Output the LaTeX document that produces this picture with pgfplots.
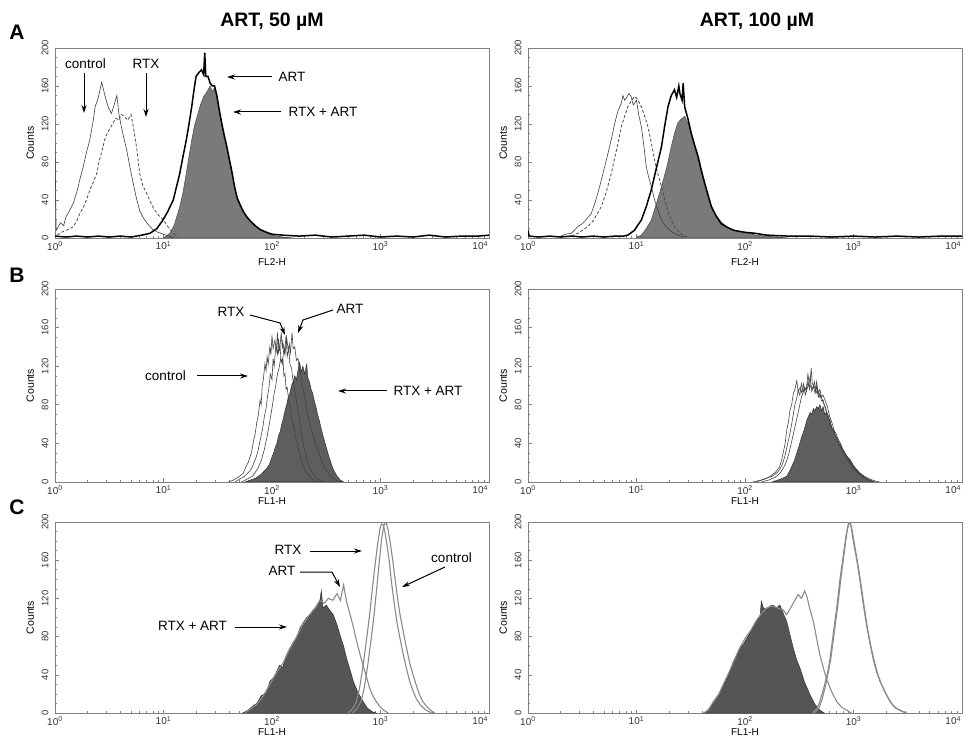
\documentclass[border=0pt]{standalone}
\usepackage{pgfplots}
\pgfplotsset{compat=1.18}
\usepackage{fontspec}
\setmainfont{Liberation Sans}
\usetikzlibrary{arrows.meta}

\definecolor{fillA}{HTML}{7A7A7A}
\definecolor{fillB}{HTML}{5E5E5E}
\definecolor{fillC}{HTML}{555555}
\definecolor{lineB}{HTML}{444444}
\definecolor{lineC}{HTML}{8A8A8A}
\definecolor{frame}{HTML}{808080}

\pgfplotsset{
  facs/.style={
    scale only axis, width=434pt, height=190pt,
    anchor=south west,
    xmin=0, xmax=4, ymin=0, ymax=200,
    no markers,
    axis line style={frame, line width=0.9pt},
    tick style={frame, line width=0.6pt},
    major tick length=3.5pt, minor tick length=2pt,
    tick pos=left,
    xtick={0,1,2,3,4},
    xticklabels={10\textsuperscript{0},10\textsuperscript{1},10\textsuperscript{2},10\textsuperscript{3},\makebox[0pt][r]{10\textsuperscript{4}\hspace{1pt}}},
    minor xtick={0.301,0.477,0.602,0.699,0.778,0.845,0.903,0.954,
                 1.301,1.477,1.602,1.699,1.778,1.845,1.903,1.954,
                 2.301,2.477,2.602,2.699,2.778,2.845,2.903,2.954,
                 3.301,3.477,3.602,3.699,3.778,3.845,3.903,3.954},
    ytick={0,40,80,120,160,200},
    yticklabels={0,40,80,120,160,200},
    minor ytick={10,20,30,50,60,70,90,100,110,130,140,150,170,180,190},
    yticklabel shift=3pt,
    yticklabel style={rotate=90, font=\fontsize{9.5}{10}\selectfont, text=black!80},
    xticklabel style={font=\fontsize{10}{11}\selectfont, text=black!80},
    ylabel={Counts},
    ylabel style={font=\fontsize{10.5}{11}\selectfont, yshift=1pt},
    xlabel style={font=\fontsize{10}{11}\selectfont, yshift=3pt},
  },
  ctrlA/.style={black!75, line width=0.6pt},
  rtxA/.style={black!70, line width=0.8pt, dash pattern=on 3pt off 2pt},
  artA/.style={black, line width=1.5pt},
  filA/.style={fill=fillA, draw=black!70, line width=0.5pt},
  linB/.style={lineB, line width=0.6pt},
  filB/.style={fill=fillB, draw=black!80, line width=0.5pt},
  linC/.style={lineC, line width=1.1pt},
  filC/.style={fill=fillC, draw=black!80, line width=0.5pt},
}

\tikzset{
  lab/.style={font=\fontsize{13.5}{14}\selectfont},
  arr/.style={-{Stealth[length=8pt,width=5pt]}, line width=1pt},
}

\begin{document}
\begin{tikzpicture}[x=1pt, y=1pt]
\useasboundingbox (0,0) rectangle (966,742);

% ---------------- row A ----------------
\begin{axis}[facs, at={(55pt,504pt)}, xlabel={FL2-H}, xlabel style={yshift=-5pt}]
\addplot[filA] coordinates {
 (1.0,0) (1.06,5) (1.1,14) (1.15,33) (1.18,48) (1.21,68) (1.235,86) (1.26,103) (1.285,118)
 (1.31,128) (1.34,140) (1.37,149) (1.39,152) (1.41,156) (1.43,160) (1.45,154) (1.47,158)
 (1.49,149) (1.515,132) (1.54,117) (1.56,106) (1.58,96) (1.605,82) (1.63,68) (1.655,52)
 (1.68,40) (1.71,32) (1.74,26) (1.77,21) (1.8,17) (1.845,12) (1.89,8) (1.95,5) (2.0,3) (2.1,1) (2.2,0)} \closedcycle;
\addplot[ctrlA] coordinates {
 (0,100) (0.01,8) (0.05,16) (0.08,13) (0.1,22) (0.14,30) (0.17,37) (0.2,48) (0.23,62) (0.26,75) (0.29,90)
 (0.32,103) (0.35,122) (0.37,138) (0.40,148) (0.43,164) (0.46,150) (0.49,138) (0.52,131)
 (0.545,140) (0.57,150) (0.59,130) (0.61,118) (0.635,105) (0.66,93) (0.69,75) (0.72,58)
 (0.75,42) (0.78,29) (0.82,20) (0.86,14) (0.9,9) (0.95,6) (1.0,4) (1.05,2) (1.1,0)};
\addplot[rtxA] coordinates {
 (0.02,3) (0.06,6) (0.1,8) (0.14,10) (0.17,12) (0.2,18) (0.23,26) (0.26,32) (0.29,40) (0.32,50)
 (0.35,58) (0.385,68) (0.41,82) (0.44,95) (0.46,104) (0.48,110) (0.51,116) (0.535,121) (0.56,126)
 (0.59,124) (0.61,130) (0.64,128) (0.67,124) (0.70,130) (0.72,118) (0.74,104) (0.755,93) (0.78,68)
 (0.81,55) (0.845,47) (0.88,38) (0.91,31) (0.94,26) (0.97,22) (1.0,19) (1.04,12) (1.09,5) (1.13,1)};
\addplot[artA] coordinates {
 (0,2) (0.1,1) (0.2,2) (0.3,1) (0.4,2) (0.5,1) (0.6,2) (0.7,1) (0.8,3) (0.876,5) (0.94,10)
 (0.995,19) (1.04,28) (1.09,40) (1.12,54) (1.15,68) (1.18,86) (1.21,103) (1.235,120) (1.26,138)
 (1.28,155) (1.3,170) (1.325,174) (1.35,177) (1.37,172) (1.38,195) (1.39,170) (1.41,170)
 (1.43,163) (1.45,160) (1.47,160) (1.49,151) (1.515,134) (1.54,119) (1.56,108) (1.58,98)
 (1.605,84) (1.63,70) (1.655,54) (1.68,42) (1.71,34) (1.74,27) (1.77,22) (1.8,18) (1.845,13)
 (1.89,9) (1.95,6) (2.0,4) (2.1,3) (2.25,2) (2.4,3) (2.55,1) (2.7,2) (2.85,3) (3.0,1)
 (3.15,2) (3.3,1) (3.45,3) (3.6,1) (3.75,2) (3.9,2) (4.0,3)};
\end{axis}
\draw[arr] (84,669) -- (84,629);
\node[lab] at (85.5,678) {control};
\draw[arr] (146,669) -- (146,625);
\node[lab] at (146,678) {RTX};
\draw[arr] (272,665) -- (227,665);
\node[lab, anchor=west] at (275,665) {ART};
\draw[arr] (281,630) -- (233,630);
\node[lab, anchor=west] at (285,630) {RTX + ART};

\begin{axis}[facs, at={(528pt,504pt)}, xlabel={FL2-H}, xlabel style={yshift=-5pt}]
\addplot[filA] coordinates {
 (1.0,1) (1.045,3) (1.09,10) (1.137,19) (1.18,35) (1.23,54) (1.28,75) (1.32,96) (1.35,110)
 (1.38,121) (1.41,125) (1.444,128) (1.47,122) (1.505,110) (1.535,95) (1.567,82) (1.6,68)
 (1.628,54) (1.66,42) (1.69,33) (1.73,24) (1.78,17) (1.84,11) (1.9,8) (1.96,6) (2.03,5)
 (2.1,3) (2.2,2) (2.3,1) (2.4,0)} \closedcycle;
\addplot[ctrlA] coordinates {
 (0.3,2) (0.35,4) (0.4,5) (0.46,12) (0.5,15) (0.54,20) (0.584,26) (0.62,38) (0.66,54) (0.70,72)
 (0.737,89) (0.77,105) (0.8,121) (0.83,134) (0.86,142) (0.875,150) (0.89,145) (0.91,148)
 (0.93,152) (0.95,149) (0.97,140) (1.0,145) (1.02,130) (1.045,117) (1.07,95) (1.09,75)
 (1.11,65) (1.137,54) (1.167,40) (1.2,28) (1.23,19) (1.27,12) (1.32,7) (1.38,3) (1.44,1)};
\addplot[rtxA] coordinates {
 (0.4,2) (0.46,5) (0.5,8) (0.55,12) (0.6,18) (0.64,26) (0.676,33) (0.72,48) (0.768,68) (0.8,85)
 (0.83,100) (0.86,117) (0.89,128) (0.92,138) (0.95,144) (0.983,149) (1.01,146) (1.045,138)
 (1.07,130) (1.106,117) (1.14,98) (1.167,82) (1.19,70) (1.213,61) (1.24,50) (1.26,40) (1.3,25)
 (1.35,12) (1.4,5) (1.47,1)};
\addplot[artA] coordinates {
 (0,8) (0.01,2) (0.1,1) (0.2,2) (0.3,1) (0.4,2) (0.5,1) (0.6,2) (0.7,1) (0.8,2) (0.88,2)
 (0.92,3) (0.98,8) (1.045,19) (1.09,33) (1.137,51) (1.18,72) (1.23,96) (1.26,118) (1.29,138)
 (1.32,150) (1.35,156) (1.37,148) (1.39,160) (1.4,152) (1.42,145) (1.43,163) (1.444,138)
 (1.475,125) (1.505,110) (1.535,98) (1.567,86) (1.6,70) (1.628,58) (1.66,45) (1.69,33)
 (1.73,24) (1.78,15) (1.84,11) (1.9,8) (2.0,6) (2.09,5) (2.2,3) (2.4,2) (2.6,2) (2.8,1)
 (3.0,2) (3.2,1) (3.4,2) (3.6,1) (3.8,2) (4.0,2)};
\end{axis}

% ---------------- row B ----------------
\begin{axis}[facs, at={(55pt,260pt)}, height=193pt, xlabel={FL1-H}]
\addplot[filB] coordinates {
 (1.75,0) (1.8,2) (1.85,4) (1.9,8) (1.95,14) (1.975,18) (2.0,26) (2.015,30) (2.03,36) (2.045,40)
 (2.06,48) (2.075,52) (2.09,60) (2.105,66) (2.12,74) (2.135,80) (2.15,88) (2.165,92) (2.18,100)
 (2.195,104) (2.21,110) (2.225,106) (2.24,116) (2.255,124) (2.27,114) (2.285,120) (2.3,112)
 (2.32,122) (2.33,108) (2.345,104) (2.36,96) (2.375,92) (2.39,84) (2.405,78) (2.42,70)
 (2.435,64) (2.45,57) (2.465,50) (2.48,44) (2.495,38) (2.51,32) (2.525,26) (2.54,21)
 (2.555,16) (2.57,12) (2.6,6) (2.63,2) (2.66,0)} \closedcycle;
\addplot[linB] coordinates {
 (1.6,0) (1.643,2) (1.69,5) (1.735,9) (1.76,16) (1.78,20) (1.8,27) (1.81,30) (1.83,43) (1.845,50)
 (1.86,62) (1.875,70) (1.89,85) (1.9,80) (1.91,100) (1.92,106) (1.935,123) (1.945,115) (1.955,130)
 (1.965,122) (1.98,140) (1.99,132) (2.0,152) (2.01,138) (2.027,147) (2.04,136) (2.05,155)
 (2.06,134) (2.074,140) (2.085,124) (2.1,128) (2.11,110) (2.12,112) (2.13,96) (2.14,98)
 (2.155,84) (2.166,78) (2.18,66) (2.2,58) (2.215,48) (2.227,43) (2.245,32) (2.26,28)
 (2.275,20) (2.29,16) (2.31,11) (2.33,8) (2.38,2) (2.43,0)};
\addplot[linB] coordinates {
 (1.66,0) (1.7,3) (1.75,6) (1.8,12) (1.82,16) (1.84,22) (1.855,26) (1.87,32) (1.885,40) (1.9,48)
 (1.915,56) (1.93,68) (1.945,76) (1.96,90) (1.97,96) (1.985,112) (2.0,106) (2.01,128) (2.02,120)
 (2.035,140) (2.05,132) (2.06,148) (2.07,136) (2.085,155) (2.095,138) (2.1,145) (2.115,134)
 (2.13,152) (2.14,130) (2.155,138) (2.165,122) (2.18,118) (2.195,104) (2.21,96) (2.225,84)
 (2.24,74) (2.255,62) (2.27,52) (2.285,42) (2.3,34) (2.315,26) (2.33,20) (2.35,14) (2.37,10)
 (2.42,3) (2.48,0)};
\addplot[linB] coordinates {
 (1.72,0) (1.77,3) (1.82,6) (1.87,14) (1.9,22) (1.915,28) (1.93,34) (1.945,42) (1.96,50)
 (1.975,60) (1.99,70) (2.005,80) (2.02,92) (2.035,100) (2.05,112) (2.065,118) (2.08,128)
 (2.095,122) (2.11,140) (2.12,132) (2.135,150) (2.15,136) (2.16,143) (2.17,134) (2.185,155)
 (2.195,138) (2.21,140) (2.225,126) (2.24,128) (2.255,114) (2.27,108) (2.285,96) (2.3,90)
 (2.315,78) (2.33,70) (2.345,62) (2.36,56) (2.375,50) (2.39,44) (2.405,38) (2.42,33)
 (2.44,27) (2.46,22) (2.48,16) (2.5,12) (2.55,5) (2.6,1) (2.65,0)};
\end{axis}
\draw[arr] (250,427) -- (280,419) -- (285,407);
\node[lab] at (231,430) {RTX};
\draw[arr] (333,432) -- (303,422) -- (298,409);
\node[lab] at (350,433) {ART};
\draw[arr] (197,366) -- (248,366);
\node[lab] at (165.5,366) {control};
\draw[arr] (387,351) -- (338,351);
\node[lab, anchor=west] at (390,351) {RTX + ART};

\begin{axis}[facs, at={(528pt,260pt)}, height=193pt, xlabel={FL1-H}]
\addplot[filB] coordinates {
 (2.25,0) (2.3,2) (2.35,4) (2.385,6) (2.41,11) (2.43,16) (2.455,22) (2.477,30) (2.5,38) (2.52,46)
 (2.545,54) (2.57,64) (2.585,68) (2.6,72) (2.615,70) (2.63,76) (2.645,74) (2.66,78) (2.675,76)
 (2.69,80) (2.705,74) (2.72,78) (2.735,70) (2.75,72) (2.765,66) (2.784,64) (2.8,56) (2.82,52)
 (2.835,48) (2.85,45) (2.865,38) (2.876,40) (2.9,34) (2.92,30) (2.945,26) (2.97,23) (3.0,17)
 (3.02,14) (3.04,12) (3.06,9) (3.1,5) (3.15,2) (3.2,0)} \closedcycle;
\addplot[linB] coordinates {
 (2.07,0) (2.15,2) (2.22,5) (2.28,10) (2.32,16) (2.34,24) (2.355,32) (2.37,40) (2.385,54) (2.4,62)
 (2.415,75) (2.43,80) (2.446,92) (2.46,96) (2.477,105) (2.49,94) (2.51,98) (2.525,92) (2.54,102)
 (2.555,90) (2.57,96) (2.585,100) (2.6,109) (2.615,94) (2.63,100) (2.645,92) (2.66,99) (2.675,88)
 (2.69,92) (2.705,84) (2.72,85) (2.745,74) (2.77,68) (2.79,58) (2.815,54) (2.84,46) (2.86,42)
 (2.885,36) (2.907,33) (2.93,27) (2.95,24) (2.975,19) (3.0,16) (3.045,10) (3.09,5) (3.14,2) (3.18,0)};
\addplot[linB] coordinates {
 (2.1,0) (2.18,3) (2.25,6) (2.3,10) (2.33,15) (2.35,20) (2.37,28) (2.39,38) (2.41,48) (2.43,60)
 (2.445,70) (2.46,80) (2.475,86) (2.49,95) (2.505,90) (2.52,102) (2.535,94) (2.55,98) (2.565,96)
 (2.58,112) (2.595,98) (2.61,100) (2.625,96) (2.64,104) (2.655,92) (2.67,96) (2.685,88) (2.7,90)
 (2.72,82) (2.74,78) (2.76,70) (2.78,64) (2.8,56) (2.82,52) (2.84,46) (2.86,42) (2.88,36)
 (2.9,32) (2.925,27) (2.95,22) (2.975,18) (3.0,14) (3.05,8) (3.1,4) (3.16,1) (3.2,0)};
\addplot[linB] coordinates {
 (2.15,0) (2.22,2) (2.28,5) (2.33,10) (2.37,18) (2.39,24) (2.41,32) (2.43,42) (2.45,52) (2.47,62)
 (2.49,72) (2.505,80) (2.52,88) (2.535,92) (2.55,98) (2.565,94) (2.58,104) (2.595,96) (2.61,118)
 (2.62,102) (2.635,100) (2.65,96) (2.66,104) (2.675,92) (2.69,96) (2.705,88) (2.72,90) (2.74,84)
 (2.76,78) (2.78,68) (2.8,62) (2.82,54) (2.84,50) (2.86,44) (2.88,40) (2.9,34) (2.92,30)
 (2.94,26) (2.96,22) (2.98,19) (3.0,16) (3.05,10) (3.1,6) (3.15,3) (3.2,1) (3.24,0)};
\end{axis}

% ---------------- row C ----------------
\begin{axis}[facs, at={(55pt,29pt)}, height=191pt, xlabel={FL1-H}]
\addplot[filC] coordinates {
 (1.73,0) (1.78,3) (1.83,8) (1.86,10) (1.9,18) (1.95,21) (1.98,33) (2.02,38) (2.07,50) (2.1,48)
 (2.13,60) (2.165,68) (2.2,75) (2.23,80) (2.258,89) (2.29,95) (2.32,100) (2.35,103) (2.38,108)
 (2.41,112) (2.44,117) (2.455,128) (2.47,110) (2.5,113) (2.53,108) (2.565,103) (2.6,92)
 (2.626,82) (2.66,70) (2.688,57) (2.72,45) (2.75,33) (2.79,22) (2.84,12) (2.88,5) (2.93,1) (2.96,0)} \closedcycle;
\addplot[linC] coordinates {
 (1.75,0) (1.8,4) (1.86,9) (1.92,18) (1.98,30) (2.04,42) (2.1,52) (2.16,66) (2.22,78) (2.28,92)
 (2.34,102) (2.4,110) (2.44,118) (2.48,115) (2.52,120) (2.56,118) (2.6,125) (2.63,118) (2.66,134)
 (2.69,115) (2.72,103) (2.75,90) (2.78,75) (2.81,62) (2.84,50) (2.87,38) (2.9,26) (2.93,18)
 (2.96,12) (3.0,6) (3.03,3) (3.07,0)};
\addplot[linC] coordinates {
 (2.7,0) (2.74,4) (2.78,12) (2.81,28) (2.84,50) (2.87,76) (2.9,103) (2.925,130) (2.95,155)
 (2.975,178) (2.995,193) (3.01,198) (3.026,197) (3.04,190) (3.056,179) (3.08,160) (3.1,138)
 (3.125,116) (3.15,96) (3.18,78) (3.21,61) (3.24,46) (3.27,33) (3.3,23) (3.33,15) (3.37,8)
 (3.42,3) (3.47,0)};
\addplot[linC] coordinates {
 (2.74,0) (2.78,4) (2.82,12) (2.85,26) (2.88,48) (2.91,74) (2.94,102) (2.965,130) (2.99,160)
 (3.01,182) (3.03,196) (3.05,200) (3.07,192) (3.09,178) (3.115,158) (3.14,135) (3.16,118)
 (3.18,103) (3.21,85) (3.24,68) (3.27,52) (3.3,40) (3.33,29) (3.36,19) (3.39,12) (3.425,7)
 (3.46,3) (3.5,0)};
\end{axis}
\draw[arr] (310,191) -- (362,191);
\node[lab] at (288,192) {RTX};
\draw[arr] (300,170) -- (332,170) -- (340,155);
\node[lab] at (282,171) {ART};
\draw[arr] (445,175) -- (402,155);
\node[lab] at (451.5,184) {control};
\draw[arr] (235,115) -- (287,115);
\node[lab] at (192.5,116) {RTX + ART};

\begin{axis}[facs, at={(528pt,29pt)}, height=191pt, xlabel={FL1-H}]
\addplot[filC] coordinates {
 (1.62,0) (1.646,2) (1.68,6) (1.708,12) (1.75,18) (1.8,29) (1.85,40) (1.892,54) (1.92,60)
 (1.954,68) (1.985,72) (2.015,78) (2.05,85) (2.08,90) (2.107,96) (2.14,102) (2.15,117)
 (2.17,110) (2.2,108) (2.23,112) (2.26,113) (2.29,110) (2.322,113) (2.35,105) (2.384,96)
 (2.41,84) (2.445,68) (2.475,56) (2.507,47) (2.55,32) (2.6,19) (2.645,9) (2.69,3) (2.73,0)} \closedcycle;
\addplot[linC] coordinates {
 (1.62,0) (1.66,3) (1.71,12) (1.76,20) (1.8,30) (1.85,42) (1.9,55) (1.95,68) (2.0,78) (2.05,86)
 (2.1,96) (2.15,104) (2.2,110) (2.25,112) (2.3,110) (2.35,108) (2.384,103) (2.42,110) (2.46,118)
 (2.49,124) (2.52,120) (2.55,128) (2.57,122) (2.6,108) (2.63,96) (2.66,78) (2.69,61) (2.72,48)
 (2.75,36) (2.8,22) (2.845,12) (2.89,6) (2.937,3) (2.98,0)};
\addplot[linC] coordinates {
 (2.62,0) (2.66,4) (2.69,12) (2.73,28) (2.76,42) (2.78,54) (2.81,80) (2.845,110) (2.875,140)
 (2.906,165) (2.93,185) (2.95,197) (2.97,200) (2.985,190) (3.0,179) (3.03,160) (3.06,138)
 (3.09,114) (3.12,92) (3.15,74) (3.18,57) (3.21,44) (3.244,33) (3.29,22) (3.336,12) (3.38,6)
 (3.43,3) (3.48,0)};
\addplot[linC] coordinates {
 (2.64,0) (2.68,5) (2.71,14) (2.745,30) (2.77,44) (2.79,56) (2.82,82) (2.855,112) (2.885,142)
 (2.915,168) (2.94,190) (2.96,200) (2.98,196) (2.995,186) (3.01,176) (3.04,156) (3.07,134)
 (3.1,110) (3.13,88) (3.16,70) (3.19,55) (3.22,42) (3.255,31) (3.3,20) (3.345,11) (3.39,5)
 (3.44,2) (3.49,0)};
\end{axis}

% titles and panel letters
\node[font=\bfseries\fontsize{19.5}{22}\selectfont] at (272,720) {ART, 50 µM};
\node[font=\bfseries\fontsize{19.5}{22}\selectfont] at (757,720) {ART, 100 µM};
\node[font=\bfseries\fontsize{21}{22}\selectfont] at (17,710) {A};
\node[font=\bfseries\fontsize{21}{22}\selectfont] at (17,467) {B};
\node[font=\bfseries\fontsize{21}{22}\selectfont] at (17,235) {C};
\end{tikzpicture}
\end{document}
